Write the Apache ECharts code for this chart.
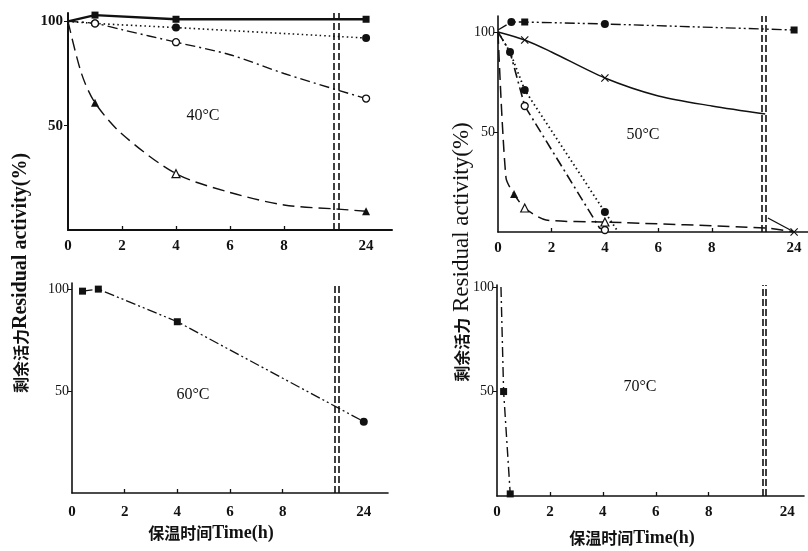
<!DOCTYPE html>
<html><head><meta charset="utf-8">
<script src="https://cdn.jsdelivr.net/npm/echarts@6/dist/echarts.min.js"></script>
<style>html,body{margin:0;padding:0;background:#fff}#c{width:808px;height:551px}</style>
</head><body><div id="c"></div>
<script>
// ---------- data (hours, residual activity %) ----------
const xTickHours = [0, 2, 4, 6, 8, 24];
const yTickValues = [0, 50, 100];

// 40 °C
const t40Square = [0, 1, 4, 24];
const a40Square = [100, 103, 101, 101];
const t40Dot = [0, 1, 4, 24];
const a40Dot = [100, 99, 97, 92];
const t40Ring = [0, 1, 2, 4, 6, 8, 10, 24];
const a40Ring = [100, 99, 96, 90, 84, 75, 67, 63];
const t40Tri = [0, 0.5, 1, 2, 4, 6, 8, 10, 24];
const a40Tri = [100, 75, 61, 46, 27, 18, 12, 10, 9];

// 50 °C
const t50Square = [0, 0.5, 1, 4, 24];
const a50Square = [101, 105, 105, 104, 101];
const t50CrossA = [0, 1, 2, 4, 6, 8, 10];
const a50CrossA = [100, 96, 90, 77, 68, 63, 59];
const t50CrossB = [10.1, 24];
const a50CrossB = [7, 0];
const t50Dot = [0, 0.45, 1, 4, 4.5];
const a50Dot = [100, 90, 71, 10, 0];
const t50Ring = [0, 0.45, 1, 3.8, 4];
const a50Ring = [100, 90, 63, 2, 1];
const t50Tri = [0, 0.3, 0.6, 1, 1.8, 4, 10, 24];
const a50Tri = [100, 27, 19, 12, 6, 5, 2, 0];

// 60 °C
const t60 = [0.4, 1, 4, 24];
const a60 = [99, 100, 84, 35];

// 70 °C
const t70 = [0.15, 0.25, 0.5];
const a70 = [100, 50, 1];

// ---------- styles / layout ----------
const INK = '#111';
const panels = [
  {grid:{left:68, top:13, width:324, height:217}, xmax:12, ymax:104, p24:11.04, brk:[9.86,10.02], yBold:true},
  {grid:{left:498, top:16, width:311, height:216}, xmax:11.6, ymax:108, p24:11.08, brk:[9.88,10.03], yBold:false},
  {grid:{left:72, top:283, width:316, height:210}, xmax:12, ymax:103, p24:11.08, brk:[9.98,10.14], yBold:false},
  {grid:{left:497, top:285, width:307, height:211}, xmax:11.6, ymax:101, p24:10.97, brk:[10.03,10.15], yBold:false}
];
const X_SVG = 'path://M1,0L5,4L9,0L10,1L6,5L10,9L9,10L5,6L1,10L0,9L4,5L0,1Z';
const SYM = {
  none:{symbol:'none'},
  sq:{symbol:'rect', symbolSize:7, itemStyle:{color:INK}},
  dot:{symbol:'circle', symbolSize:8, itemStyle:{color:INK}},
  ring:{symbol:'circle', symbolSize:7, itemStyle:{color:'#fff', borderColor:INK, borderWidth:1.3}},
  tri:{symbol:'triangle', symbolSize:8, itemStyle:{color:INK}},
  otri:{symbol:'triangle', symbolSize:8, itemStyle:{color:'#fff', borderColor:INK, borderWidth:1.2}},
  x:{symbol:X_SVG, symbolSize:8, itemStyle:{color:INK}}
};
const DASH = {
  solid:'solid', dotted:[1.5,3], dashdot:[10,4,2,4], longdash:[12,6], dashdotdot:[10,3,2,3,2,3]
};

function pos(t, p){ return t === 24 ? panels[p].p24 : t; }
function series(p, ts, vs, marks, dash, width, smooth, extra){
  const data = ts.map((t,i)=>Object.assign({value:[pos(t,p), vs[i]]}, SYM[marks[i]]));
  return Object.assign({
    type:'line', xAxisIndex:p, yAxisIndex:p, data, smooth: smooth || false,
    clip:false, silent:true, animation:false,
    lineStyle:{color:INK, width:width, type:DASH[dash]},
    itemStyle:{color:INK}
  }, extra||{});
}
function breakLines(p){
  return {silent:true, symbol:'none', label:{show:false}, animation:false,
    lineStyle:{color:INK, width:1.6, type:[7,3]},
    data: panels[p].brk.map(v=>({xAxis:v}))};
}
function marks(n, spec){ const m = new Array(n).fill('none'); Object.keys(spec).forEach(k=>m[k]=spec[k]); return m; }

const series40 = [
  series(0, t40Square, a40Square, ['none','sq','sq','sq'], 'solid', 2.4, false, {markLine:breakLines(0)}),
  series(0, t40Dot, a40Dot, ['none','dot','dot','dot'], 'dotted', 1.6, 0.3),
  series(0, t40Ring, a40Ring, marks(t40Ring.length,{1:'ring',3:'ring',7:'ring'}), 'dashdot', 1.4, 0.3),
  series(0, t40Tri, a40Tri, marks(t40Tri.length,{2:'tri',4:'otri',8:'tri'}), 'longdash', 1.4, 0.3)
];
const series50 = [
  series(1, t50Square, a50Square, ['none','dot','sq','dot','sq'], 'dashdotdot', 1.4, false, {markLine:breakLines(1)}),
  series(1, t50CrossA, a50CrossA, marks(t50CrossA.length,{1:'x',3:'x'}), 'solid', 1.4, 0.3),
  series(1, t50CrossB, a50CrossB, ['none','x'], 'solid', 1.4, false),
  series(1, t50Dot, a50Dot, ['none','dot','dot','dot','none'], 'dotted', 1.8, false),
  series(1, t50Ring, a50Ring, ['none','none','ring','none','ring'], 'dashdot', 1.6, false),
  series(1, t50Tri, a50Tri, marks(t50Tri.length,{2:'tri',3:'otri',5:'otri'}), 'longdash', 1.5, 0.25)
];
const series60 = [
  series(2, t60, a60, ['sq','sq','sq','dot'], 'dashdotdot', 1.3, false, {markLine:breakLines(2)})
];
const series70 = [
  series(3, t70, a70, ['none','sq','sq'], 'dashdot', 1.4, false, {markLine:breakLines(3)})
];

const serif = "'Liberation Serif','Noto Sans CJK SC',serif";

const xAxes = panels.map((pn,i)=>({
  type:'value', gridIndex:i, min:0, max:pn.xmax,
  axisLine:{onZero:false, lineStyle:{color:INK, width:i===0?2:1.6}},
  splitLine:{show:false},
  axisTick:{inside:true, length:4, lineStyle:{color:INK, width:1.3},
    customValues: xTickHours.filter(h=>h>0 && h<24).map(h=>pos(h,i))},
  axisLabel:{color:INK, fontFamily:serif, fontWeight:'bold', fontSize:15, margin:i===2?12:9,
    customValues: xTickHours.map(h=>pos(h,i)),
    formatter: v => String(xTickHours.find(h=>Math.abs(pos(h,i)-v)<1e-6))}
}));
const yAxes = panels.map((pn,i)=>({
  type:'value', gridIndex:i, min:0, max:pn.ymax,
  axisLine:{show:true, lineStyle:{color:INK, width:i===0?2:1.6}},
  splitLine:{show:false},
  axisTick:{show:true, length:4, lineStyle:{color:INK}, customValues:[50,100]},
  axisLabel:{color:INK, fontFamily:serif, fontWeight: pn.yBold?'bold':'normal',
    fontSize: pn.yBold?15:14, margin: i===0?5:3, customValues: yTickValues.filter(v=>v>0)}
}));

function txt(x,y,text,size,weight,rot){
  return {type:'text', x, y, rotation: rot||0, silent:true,
    style:{text, fill:INK, font:(weight||'normal')+' '+size+'px '+serif, align:'center', verticalAlign:'middle'}};
}
function richTxt(x,y,cjk,lat,cSize,lSize,weight,rot){
  return {type:'text', x, y, rotation: rot||0, silent:true,
    style:{text:'{c|'+cjk+'}{e|'+lat+'}', align:'center', verticalAlign:'middle',
      rich:{c:{fill:INK, fontFamily:"'Noto Sans CJK SC'", fontWeight:'bold', fontSize:cSize},
            e:{fill:INK, fontFamily:"'Liberation Serif'", fontWeight:weight, fontSize:lSize}}}};
}

const chart = echarts.init(document.getElementById('c'), null, {renderer:'canvas'});
chart.setOption({
  backgroundColor:'#fff',
  animation:false,
  grid: panels.map(p=>p.grid),
  xAxis: xAxes,
  yAxis: yAxes,
  series: [].concat(series40, series50, series60, series70),
  graphic: [
    txt(203,116,'40°C',16,'normal'),
    txt(643,135,'50°C',16,'normal'),
    txt(193,395,'60°C',16,'normal'),
    txt(640,387,'70°C',16,'normal'),
    richTxt(21,273,'剩余活力','Residual activity(%)',16,20,'bold',Math.PI/2),
    richTxt(462,252,'剩余活力',' Residual activity(%)',16,23,'normal',Math.PI/2),
    richTxt(211,533,'保温时间','Time(h)',16,18,'bold',0),
    richTxt(632,538,'保温时间','Time(h)',16,18,'bold',0)
  ]
});
</script></body></html>
